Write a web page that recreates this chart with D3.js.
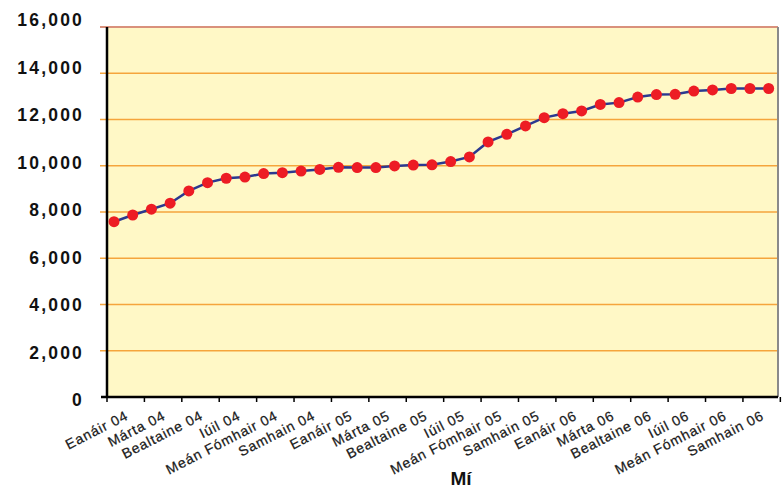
<!DOCTYPE html>
<html>
<head>
<meta charset="utf-8">
<script src="https://cdn.jsdelivr.net/npm/d3@7"></script>
<style>
  body { margin: 0; background: #fff; }
  text { font-family: "Liberation Sans", Arial, sans-serif; }
</style>
</head>
<body>
<div id="chart"></div>
<script>
// monthly totals, Eanáir 04 .. Nollaig 06
const monthNames = ["Eanáir", "Feabhra", "Márta", "Aibreán", "Bealtaine", "Meitheamh",
  "Iúil", "Lúnasa", "Meán Fómhair", "Deireadh Fómhair", "Samhain", "Nollaig"];
const years = ["04", "05", "06"];
const values = [
  7580, 7870, 8120, 8380, 8910, 9270, 9460, 9510, 9660, 9700, 9770, 9840,
  9930, 9920, 9920, 9990, 10030, 10040, 10180, 10380, 11030, 11360, 11720, 12080,
  12250, 12370, 12650, 12730, 12970, 13080, 13090, 13230, 13280, 13340, 13340, 13340
];
const yTicks = [0, 2000, 4000, 6000, 8000, 10000, 12000, 14000, 16000];
const xTitle = "Mí";

const months = [];
years.forEach(y => monthNames.forEach(m => months.push(m + " " + y)));
const data = months.map((m, i) => ({ i: i, label: m, value: values[i] }));
// only every second month gets a label
const labelled = data.filter(d => d.i % 2 === 0);

const W = 784, H = 489;
const pLeft = 107, pRight = 778, pTop = 27, pBottom = 397;

const svg = d3.select("#chart").append("svg")
  .attr("width", W).attr("height", H);

const x = d3.scaleLinear().domain([-0.375, 35.5]).range([pLeft, pRight]);
const y = d3.scaleLinear().domain([0, 16000]).range([pBottom, pTop]);
const yLab = d3.scaleLinear().domain([0, 16000]).range([400, 20]);

// plot background
svg.append("rect")
  .attr("x", pLeft).attr("y", pTop)
  .attr("width", pRight - pLeft).attr("height", pBottom - pTop)
  .attr("fill", "#fff8c6");

// grid lines (they also poke out left as ticks)
svg.append("g").selectAll("line")
  .data(yTicks.filter(t => t > 0 && t < 16000))
  .join("line")
  .attr("x1", pLeft - 7).attr("x2", pRight)
  .attr("y1", d => y(d)).attr("y2", d => y(d))
  .attr("stroke", "#f5a53c").attr("stroke-width", 1.5);

// top border
svg.append("line")
  .attr("x1", pLeft - 7).attr("x2", pRight)
  .attr("y1", y(16000)).attr("y2", y(16000))
  .attr("stroke", "#d9917c").attr("stroke-width", 2);
// right border
svg.append("line")
  .attr("x1", pRight).attr("x2", pRight)
  .attr("y1", pTop).attr("y2", pBottom)
  .attr("stroke", "#8a8a8a").attr("stroke-width", 2);

// y labels
svg.append("g").selectAll("text")
  .data(yTicks)
  .join("text")
  .attr("x", 84).attr("y", d => yLab(d))
  .attr("dy", "0.36em")
  .attr("text-anchor", "end")
  .attr("font-size", 17.5).attr("font-weight", "bold")
  .attr("letter-spacing", 2.2)
  .attr("fill", "#111")
  .text(d => d3.format(",")(d));

// axes lines
svg.append("line")
  .attr("x1", pLeft).attr("x2", pLeft).attr("y1", pTop).attr("y2", pBottom + 1)
  .attr("stroke", "#000").attr("stroke-width", 2.5);
svg.append("line")
  .attr("x1", pLeft - 6).attr("x2", pRight).attr("y1", pBottom).attr("y2", pBottom)
  .attr("stroke", "#000").attr("stroke-width", 2.5);

// x ticks between each pair of months
const tickPos = d3.range(0, 19).map(k => 2 * k - 0.375);
svg.append("g").selectAll("line")
  .data(tickPos)
  .join("line")
  .attr("x1", d => x(d)).attr("x2", d => x(d))
  .attr("y1", pBottom).attr("y2", pBottom + 5)
  .attr("stroke", "#000").attr("stroke-width", 1.5);

// x labels, rotated
svg.append("g").selectAll("text")
  .data(labelled)
  .join("text")
  .attr("transform", d => `translate(${x(d.i + 0.625) - 1},${pBottom + 13}) rotate(-27)`)
  .attr("text-anchor", "end")
  .attr("dy", "0.7em")
  .attr("font-size", 14)
  .attr("letter-spacing", 0.9)
  .attr("fill", "#1a1a1a")
  .attr("stroke", "#1a1a1a").attr("stroke-width", 0.25)
  .text(d => d.label);

// axis title
svg.append("text")
  .attr("x", 461).attr("y", 485)
  .attr("text-anchor", "middle")
  .attr("font-size", 19).attr("font-weight", "bold")
  .attr("fill", "#111")
  .text(xTitle);

// line + markers
const line = d3.line().x(d => x(d.i)).y(d => y(d.value));
svg.append("path")
  .datum(data)
  .attr("d", line)
  .attr("fill", "none")
  .attr("stroke", "#2b3990").attr("stroke-width", 2.5);

svg.append("g").selectAll("circle")
  .data(data)
  .join("circle")
  .attr("cx", d => x(d.i)).attr("cy", d => y(d.value))
  .attr("r", 5.5)
  .attr("fill", "#ed1c24");
</script>
</body>
</html>
